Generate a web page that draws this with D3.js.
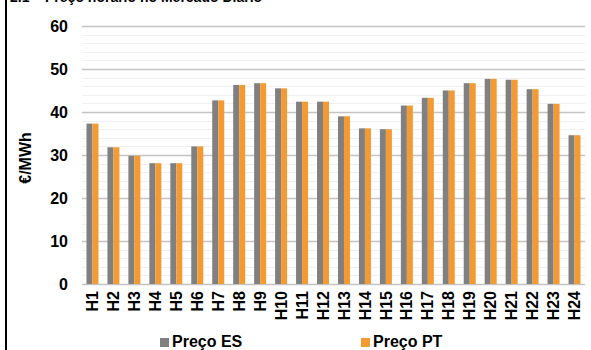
<!DOCTYPE html>
<html><head><meta charset="utf-8">
<script src="https://cdn.jsdelivr.net/npm/d3@7"></script>
<style>body{margin:0;background:#fff}svg{display:block}text{font-family:"Liberation Sans",Arial,sans-serif;font-weight:bold;fill:#000}</style>
</head><body>
<script>
const hours = ["H1","H2","H3","H4","H5","H6","H7","H8","H9","H10","H11","H12","H13","H14","H15","H16","H17","H18","H19","H20","H21","H22","H23","H24"];
const precoES = [37.3,31.8,29.8,28.1,28.1,32.0,42.7,46.3,46.7,45.5,42.4,42.4,39.0,36.2,36.0,41.5,43.3,45.0,46.7,47.7,47.5,45.3,41.9,34.6];
const precoPT = [37.3,31.8,29.8,28.1,28.1,32.0,42.7,46.3,46.7,45.5,42.4,42.4,39.0,36.2,36.0,41.5,43.3,45.0,46.7,47.7,47.5,45.3,41.9,34.6];
const yTicks = [0,10,20,30,40,50,60];
const seriesNames = ["Preço ES","Preço PT"];
const colors = ["#808080","#f39a32"];
const title = "2.1 – Preço horário no Mercado Diário";

const W=591,H=350;
const svg=d3.select("body").append("svg").attr("width",W).attr("height",H);
svg.append("rect").attr("x",5).attr("y",0).attr("width",2).attr("height",H).attr("fill","#000");
svg.append("text").attr("x",10).attr("y",2).style("font-size","14px").text(title);

const x=d3.scaleBand().domain(hours).range([82,585]);
const y=d3.scaleLinear().domain([0,60]).range([284,26]);
const xs=d3.scaleBand().domain([0,1]).range([0,12]);

const g=svg.append("g");
g.selectAll("line.minor").data(d3.range(2,60,2).filter(v=>v%10)).enter().append("line")
 .attr("x1",82).attr("x2",585).attr("y1",d=>Math.round(y(d))+0.5).attr("y2",d=>Math.round(y(d))+0.5)
 .attr("stroke","#f0f0f4").attr("stroke-width",1);
g.selectAll("line.major").data(yTicks).enter().append("line")
 .attr("x1",82).attr("x2",585).attr("y1",d=>Math.round(y(d))+0.5).attr("y2",d=>Math.round(y(d))+0.5)
 .attr("stroke","#c4c4c4").attr("stroke-width",1.3);

const ya=d3.axisLeft(y).tickValues(yTicks).tickSize(0).tickPadding(0);
const yg=svg.append("g").attr("transform","translate(68,0)").call(ya);
yg.select(".domain").remove();
yg.selectAll("text").style("font-size","16px").attr("dy","0.35em");

const series=[precoES,precoPT];
series.forEach((s,i)=>{
  svg.append("g").selectAll("rect").data(s).enter().append("rect")
   .attr("x",(d,j)=>x(hours[j])+x.bandwidth()/2-6+xs(i))
   .attr("width",xs.bandwidth())
   .attr("y",d=>y(d)).attr("height",d=>y(0)-y(d))
   .attr("fill",colors[i]);
});

const xa=d3.axisBottom(x).tickSize(0).tickPadding(0);
const xg=svg.append("g").attr("transform","translate(0,284)").call(xa);
xg.select(".domain").remove();
xg.selectAll("text").style("font-size","16px").attr("text-anchor","end")
 .attr("transform","rotate(-90)").attr("x",-7).attr("y",0).attr("dy","0.35em");

svg.append("text").attr("transform","translate(31,158) rotate(-90)").attr("text-anchor","middle")
 .style("font-size","16px").text("€/MWh");

const lx=[160,361];
seriesNames.forEach((n,i)=>{
  svg.append("rect").attr("x",lx[i]).attr("y",338).attr("width",9).attr("height",9).attr("fill",colors[i]);
  svg.append("text").attr("x",lx[i]+12).attr("y",347).style("font-size","16px").text(n);
});
</script>
</body></html>
